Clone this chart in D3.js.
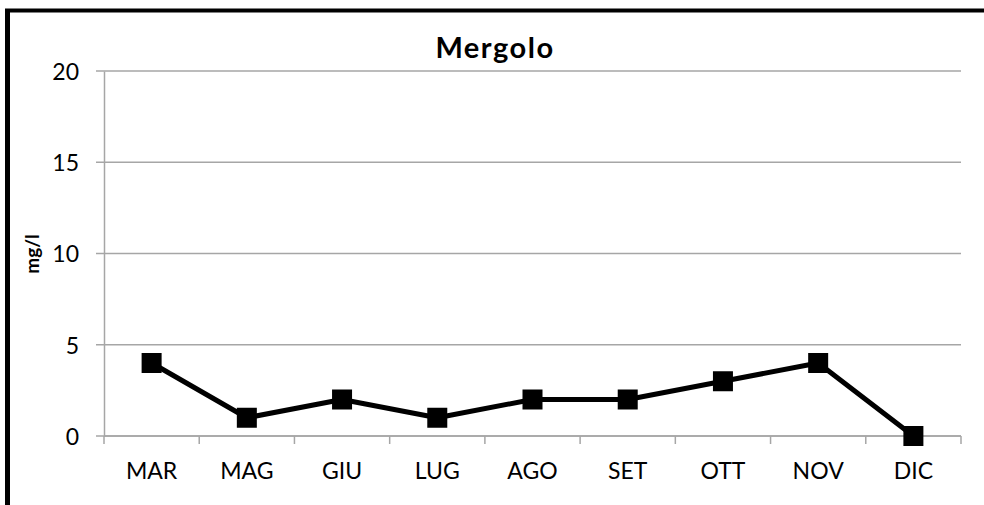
<!DOCTYPE html>
<html><head><meta charset="utf-8">
<script src="https://cdn.jsdelivr.net/npm/d3@7"></script>
<style>body{margin:0;background:#fff}svg{display:block}</style>
</head><body>
<script>
const categories = ["MAR","MAG","GIU","LUG","AGO","SET","OTT","NOV","DIC"];
const values = [4,1,2,1,2,2,3,4,0];
const yTicks = [0,5,10,15,20];
const title = "Mergolo";
const yTitle = "mg/l";

const W = 984, H = 505;
const m = {left:104, right:23, top:71, bottom:69};
const font = "Lato, 'Open Sans', sans-serif";
const svg = d3.select("body").append("svg").attr("width",W).attr("height",H);

// frame
svg.append("line").attr("x1",5).attr("x2",W).attr("y1",10.5).attr("y2",10.5).attr("stroke","#000").attr("stroke-width",4);
svg.append("line").attr("x1",7.5).attr("x2",7.5).attr("y1",9).attr("y2",H).attr("stroke","#000").attr("stroke-width",5);

const x = d3.scaleBand().domain(categories).range([m.left, W-m.right]);
const y = d3.scaleLinear().domain([0,20]).range([H-m.bottom, m.top]);

// gridlines
svg.append("g").selectAll("line").data(yTicks).join("line")
  .attr("x1",m.left-8).attr("x2",W-m.right)
  .attr("y1",d=>y(d)).attr("y2",d=>y(d))
  .attr("stroke","#a6a6a6").attr("stroke-width",1.5);

// y axis
const ya = svg.append("g").attr("transform",`translate(${m.left},0)`)
  .call(d3.axisLeft(y).tickValues(yTicks).tickSize(0).tickPadding(25));
ya.select(".domain").attr("stroke","#a6a6a6").attr("stroke-width",1.5);
ya.selectAll("text").attr("font-family",font).attr("font-size",23).attr("fill","#000").attr("dy","0.36em");

// x axis
const xa = svg.append("g").attr("transform",`translate(0,${y(0)})`)
  .call(d3.axisBottom(x).tickSize(0));
xa.select(".domain").remove();
xa.selectAll("text").attr("font-family",font).attr("font-size",23).attr("fill","#000")
  .attr("y",43).attr("dy",0);
const edges = categories.map(c=>x(c)).concat([x.range()[1]]);
svg.append("g").selectAll("line").data(edges).join("line")
  .attr("x1",d=>d).attr("x2",d=>d).attr("y1",y(0)).attr("y2",y(0)+8)
  .attr("stroke","#a6a6a6").attr("stroke-width",1.5);
svg.append("line").attr("x1",m.left).attr("x2",W-m.right).attr("y1",y(0)).attr("y2",y(0))
  .attr("stroke","#a6a6a6").attr("stroke-width",1.5);

// line
const cx = c => x(c)+x.bandwidth()/2;
svg.append("path").datum(values)
  .attr("d", d3.line().x((d,i)=>cx(categories[i])).y(d=>y(d)))
  .attr("fill","none").attr("stroke","#000").attr("stroke-width",5).attr("stroke-linejoin","round");
svg.append("g").selectAll("rect").data(values).join("rect")
  .attr("x",(d,i)=>cx(categories[i])-10).attr("y",d=>y(d)-10)
  .attr("width",20).attr("height",20).attr("fill","#000");

// titles
svg.append("text").attr("x",495).attr("y",58).attr("text-anchor","middle")
  .attr("font-family",font).attr("font-weight","bold").attr("font-size",29)
  .attr("letter-spacing",1.5).text(title);
svg.append("text").attr("transform",`translate(39,254) rotate(-90)`).attr("text-anchor","middle")
  .attr("font-family",font).attr("font-weight","bold").attr("font-size",19).text(yTitle);
</script>
</body></html>
